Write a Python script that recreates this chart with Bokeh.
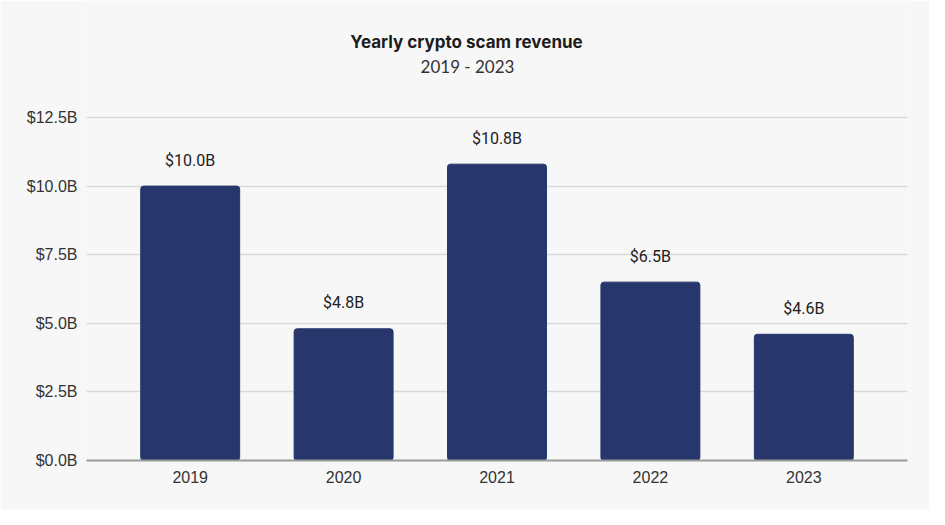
from bokeh.plotting import figure
from bokeh.models import FactorRange, Range1d, Label, ColumnDataSource, FixedTicker
from bokeh.core.properties import value
from bokeh.embed import file_html
from bokeh.resources import INLINE

years = ["2019", "2020", "2021", "2022", "2023"]
revenue = [10.0, 4.8, 10.8, 6.5, 4.6]
labels = ["$10.0B", "$4.8B", "$10.8B", "$6.5B", "$4.6B"]
y_ticks = [0, 2.5, 5.0, 7.5, 10.0, 12.5]
y_tick_labels = ["$0.0B", "$2.5B", "$5.0B", "$7.5B", "$10.0B", "$12.5B"]
title_text = "Yearly crypto scam revenue"
subtitle_text = "2019 - 2023"

BG = "#f7f7f7"
BAR = "#27366b"

# layout: frame spans the full height above the axis so the titles can sit inside it
FRAME_H = 460          # px from top of figure to the baseline
GRID_H = 343           # px from $0.0B to $12.5B
y_top = 12.5 * FRAME_H / GRID_H

src = ColumnDataSource(dict(year=years, rev=revenue, lab=labels))

p = figure(
    width=929, height=509,
    x_range=FactorRange(factors=years, range_padding=0.176, range_padding_units="absolute"),
    y_range=Range1d(0, y_top),
    output_backend="svg", toolbar_location=None,
    min_border_left=86, min_border_right=22, min_border_top=0, min_border_bottom=49,
)
p.background_fill_color = BG
p.border_fill_color = BG
p.outline_line_color = None

p.vbar(x="year", top="rev", width=0.645, source=src, color=BAR, line_color=BAR,
       border_radius=3)

p.text(x="year", y="rev", text="lab", source=src, y_offset=-26,
       text_align="center", text_baseline="middle",
       text_font=value("Roboto"), text_font_size="16px", text_color="#222222")

# axes
p.yaxis.ticker = FixedTicker(ticks=y_ticks)
p.yaxis.major_label_overrides = {t: l for t, l in zip(y_ticks, y_tick_labels)}
p.yaxis.axis_line_color = None
p.yaxis.major_tick_line_color = None
p.yaxis.minor_tick_line_color = None
p.yaxis.major_label_standoff = 3
p.yaxis.major_label_text_font = "Liberation Sans"
p.yaxis.major_label_text_font_size = "16px"
p.yaxis.major_label_text_color = "#333333"

p.xaxis.axis_line_color = "#9a9a9a"
p.xaxis.axis_line_width = 2
p.xaxis.major_tick_line_color = None
p.xaxis.minor_tick_line_color = None
p.xaxis.major_label_standoff = 4
p.xaxis.major_label_text_font = "Liberation Sans"
p.xaxis.major_label_text_font_size = "16px"
p.xaxis.major_label_text_color = "#333333"

p.xgrid.grid_line_color = None
p.ygrid.grid_line_color = "#d9d9d9"
p.ygrid.grid_line_width = 1.5

# titles (screen units relative to plot frame: x from left, y from bottom)
p.add_layout(Label(x=380, y=419, x_units="screen", y_units="screen", text=title_text,
                   text_align="center", text_baseline="middle",
                   text_font="Inter", text_font_style="bold", text_font_size="17px",
                   text_color="#1c1c1c"))
p.add_layout(Label(x=381, y=394, x_units="screen", y_units="screen", text=subtitle_text,
                   text_align="center", text_baseline="middle",
                   text_font="Lato", text_font_size="17px", text_color="#333333"))

open("out.html", "w").write(file_html(p, INLINE))
